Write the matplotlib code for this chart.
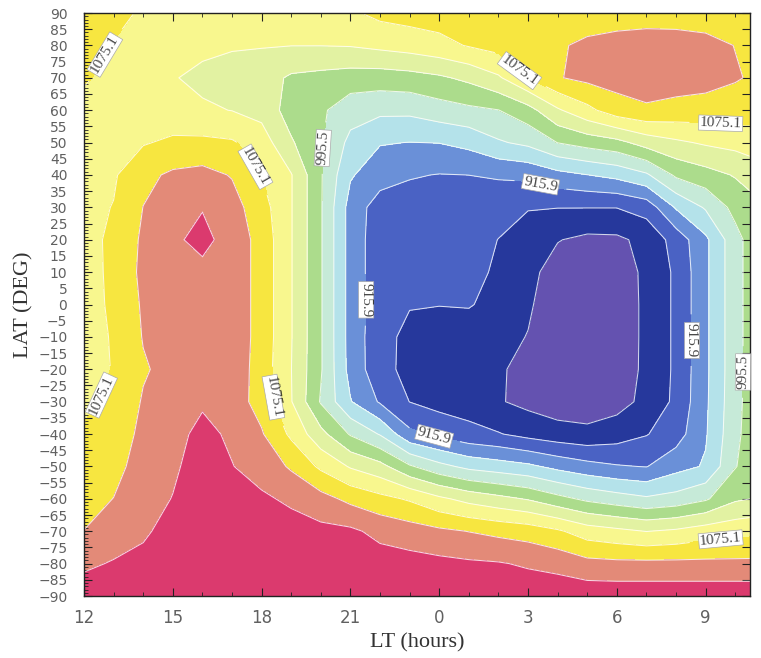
import numpy as np
import matplotlib.pyplot as plt

# local time axis runs past midnight: 24..35 are 0..11 LT
lt_hours = np.arange(12, 36)
lat_deg = np.arange(90, -91, -10)

# field values, one row per latitude (90 -> -90), one column per LT hour (12 -> 35)
row_p90 = [1092, 1082, 1072, 1068, 1066, 1065, 1065, 1066, 1068, 1071, 1082, 1086, 1088, 1090, 1090, 1089, 1089, 1090, 1091, 1091, 1090, 1088, 1086, 1084]
row_p80 = [1083, 1074, 1068, 1062, 1054, 1051, 1050, 1049, 1049, 1050, 1055, 1060, 1067, 1077, 1085, 1095, 1099, 1106, 1110, 1113, 1113, 1110, 1101, 1094]
row_p70 = [1077, 1070, 1062, 1050, 1043, 1038, 1034, 1018, 1014, 1010, 1009, 1012, 1018, 1028, 1045, 1075, 1100, 1108, 1112, 1114, 1114, 1112, 1104, 1095]
row_p60 = [1070, 1067, 1063, 1058, 1052, 1048, 1040, 1010, 1000, 980, 975, 975, 984, 990, 995, 1012, 1045, 1068, 1090, 1098, 1093, 1090, 1088, 1085]
row_p50 = [1069, 1067, 1073, 1080, 1081, 1078, 1062, 1025, 998, 962, 944, 942, 943, 950, 966, 975, 996, 1006, 1014, 1033, 1044, 1052, 1057, 1064]
row_p40 = [1068, 1072, 1095, 1106, 1110, 1100, 1075, 1050, 998, 945, 928, 918, 915, 916, 919, 922, 934, 942, 950, 965, 1000, 1012, 1024, 1038]
row_p30 = [1068, 1076, 1102, 1116, 1127, 1112, 1086, 1050, 998, 932, 903, 904, 903, 901, 898, 891, 890, 890, 890, 900, 945, 972, 1004, 1020]
row_p20 = [1067, 1080, 1106, 1124, 1135, 1118, 1092, 1050, 998, 932, 900, 902, 901, 899, 889, 876, 864, 857, 858, 870, 900, 937, 986, 1022]
row_p10 = [1066, 1080, 1108, 1118, 1122, 1118, 1092, 1050, 998, 932, 900, 898, 897, 896, 886, 870, 852, 846, 850, 868, 894, 937, 986, 1022]
row_00 = [1066, 1079, 1105, 1115, 1116, 1118, 1092, 1050, 998, 932, 902, 891, 890, 891, 882, 866, 849, 843, 848, 868, 894, 937, 986, 1022]
row_m10 = [1066, 1077, 1103, 1112, 1113, 1118, 1092, 1050, 998, 932, 899, 882, 878, 877, 870, 862, 846, 842, 848, 868, 894, 937, 986, 1022]
row_m20 = [1068, 1076, 1099, 1110, 1112, 1118, 1090, 1049, 998, 933, 899, 881, 876, 875, 866, 855, 846, 843, 849, 868, 894, 937, 986, 1022]
row_m30 = [1070, 1080, 1104, 1115, 1125, 1114, 1092, 1050, 993, 944, 913, 889, 880, 878, 865, 856, 848, 847, 853, 870, 895, 938, 987, 1022]
row_m40 = [1078, 1087, 1108, 1120, 1135, 1124, 1104, 1070, 1030, 993, 967, 922, 909, 897, 891, 881, 874, 870, 877, 888, 904, 940, 989, 1022]
row_m50 = [1085, 1094, 1112, 1124, 1140, 1129, 1118, 1098, 1070, 1046, 1031, 999, 977, 962, 955, 948, 935, 925, 918, 915, 933, 945, 994, 1020]
row_m60 = [1093, 1102, 1118, 1129, 1145, 1140, 1132, 1124, 1111, 1095, 1083, 1072, 1054, 1040, 1030, 1020, 1004, 990, 981, 973, 979, 992, 1018, 1026]
row_m70 = [1102, 1116, 1125, 1136, 1148, 1146, 1142, 1138, 1135, 1133, 1121, 1114, 1107, 1101, 1095, 1090, 1079, 1062, 1055, 1048, 1053, 1062, 1066, 1070]
row_m80 = [1124, 1130, 1134, 1142, 1150, 1150, 1148, 1146, 1145, 1145, 1140, 1138, 1135, 1132, 1130, 1125, 1120, 1110, 1108, 1108, 1108, 1108, 1108, 1108]
row_m90 = [1140, 1145, 1148, 1150, 1152, 1152, 1152, 1152, 1152, 1152, 1150, 1150, 1148, 1148, 1146, 1145, 1145, 1145, 1145, 1145, 1145, 1145, 1145, 1145]

field = np.array([row_p90, row_p80, row_p70, row_p60, row_p50, row_p40, row_p30,
                  row_p20, row_p10, row_00, row_m10, row_m20, row_m30, row_m40,
                  row_m50, row_m60, row_m70, row_m80, row_m90], dtype=float)

levels = [862.83, 889.37, 915.9, 942.43, 968.97, 995.5, 1022.03, 1048.57, 1075.1, 1101.63, 1128.17]
labelled = [915.9, 995.5, 1075.1]
band_colors = ['#6452b0', '#26389c', '#4a62c4', '#6a90d8', '#b4e2ea', '#c6ead8',
               '#acdc8c', '#e2f2a2', '#f8f78e', '#f7e640', '#e38a78', '#db3a6e']

xtick_pos = [12, 15, 18, 21, 24, 27, 30, 33]
xtick_txt = ['12', '15', '18', '21', '0', '3', '6', '9']

# (LT, LAT) spots where the contour values are written
label_spots = [(13.05, 75.5), (26.73, 72.4), (33.5, 54.0), (17.88, 43.1),
               (12.6, -28.0), (18.42, -28.6), (33.5, -71.5),
               (20.14, 48.3), (34.1, -20.8),
               (27.4, 36.3), (21.39, 1.4), (23.86, -39.4), (32.47, -11.0)]

fig = plt.figure(figsize=(7.61, 6.58), dpi=100)
ax = fig.add_axes([0.1104, 0.0942, 0.8752, 0.886])

ax.contourf(lt_hours, lat_deg, field, levels=[800] + levels + [1200], colors=band_colors)

line_style = dict(colors='white', linewidths=0.75, alpha=0.8)
plain = [lv for lv in levels if lv not in labelled]
ax.contour(lt_hours, lat_deg, field, levels=plain, **line_style)
cs = ax.contour(lt_hours, lat_deg, field, levels=labelled, **line_style)
texts = ax.clabel(cs, manual=label_spots, fmt='%.1f', fontsize=11,
                  colors='#1a1a1a', inline=True, inline_spacing=4)
for t in texts:
    t.set_fontfamily('Liberation Serif')
    t.set_bbox(dict(facecolor='white', edgecolor='#aaaaaa', linewidth=0.5, pad=0.8))
    t.set_clip_on(False)

ax.set_xlim(12, 34.5)
ax.set_ylim(-90, 90)
ax.set_xticks(xtick_pos)
ax.set_xticklabels(xtick_txt)
ax.set_xticks(np.arange(12, 35), minor=True)
ax.set_yticks(np.arange(-90, 91, 5))
ax.set_yticks(np.arange(-90, 91, 1), minor=True)

ax.tick_params(which='both', direction='in', top=True, right=True, color='#222222')
ax.tick_params(which='major', length=6, width=0.8, labelcolor='#606060')
ax.tick_params(axis='x', which='major', pad=9, labelsize=12)
ax.tick_params(axis='y', which='major', pad=12, labelsize=10)
ax.tick_params(which='minor', length=3, width=0.6)
ax.tick_params(axis='y', which='minor', right=False)
for sp in ax.spines.values():
    sp.set_linewidth(1.0)
    sp.set_color('#222222')

ax.set_xlabel('LT (hours)', fontsize=16, fontfamily='Liberation Serif', color='#333333')
ax.set_ylabel('LAT (DEG)', fontsize=16, fontfamily='Liberation Serif', color='#333333')
ax.xaxis.set_label_coords(0.5, -0.064)
ax.yaxis.set_label_coords(-0.0766, 0.5)

fig.savefig('out.png', dpi=100)
